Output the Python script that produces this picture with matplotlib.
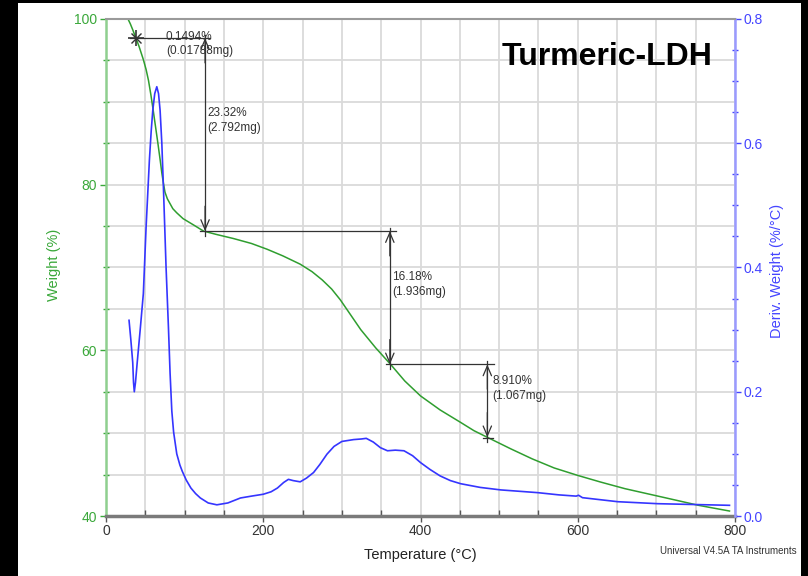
import matplotlib
matplotlib.use('Agg')
import matplotlib.pyplot as plt
from matplotlib.ticker import MultipleLocator, FormatStrFormatter
from matplotlib.patches import Rectangle

plt.rcParams['font.family'] = ['Liberation Sans', 'DejaVu Sans']

# weight curve (%)
temp_w = [28, 31, 34, 38, 42, 47.5, 51, 54, 57, 60, 63, 66, 69, 71, 73, 75, 78,
          81.5, 85, 90, 98, 105, 112, 124, 140, 162, 185, 205, 225, 247, 262,
          275, 287, 298, 311, 324, 343, 362, 380, 400, 425, 451, 468, 485, 515,
          542, 570, 600, 629, 660, 702, 730, 753, 793]
weight = [100, 99.4, 98.7, 97.7, 96.7, 95.1, 93.9, 92.6, 90.9, 89.0, 87.0, 85.0,
          82.9, 81.4, 80.2, 79.1, 78.3, 77.7, 77.1, 76.6, 75.9, 75.5, 75.1, 74.4,
          74.0, 73.5, 72.9, 72.2, 71.4, 70.4, 69.5, 68.5, 67.4, 66.1, 64.3, 62.5,
          60.3, 58.3, 56.3, 54.5, 52.8, 51.3, 50.3, 49.5, 48.1, 46.9, 45.8, 44.9,
          44.1, 43.3, 42.4, 41.8, 41.3, 40.6]

# derivative curve (%/C)
temp_d = [29.3, 31.5, 34, 35, 36, 37.5, 39.9, 43.5, 47.5, 51, 55.2, 57.5, 59.5,
          62, 64.6, 66.8, 68.8, 71, 73, 76.4, 79.4, 81.5, 83.7, 86, 90, 94, 97,
          102, 108, 114, 120, 130, 141, 155, 171, 185, 200, 210, 218, 226, 232,
          238, 247, 255, 264, 272, 281, 290, 300, 315, 325, 331, 340, 349, 358,
          368, 379, 390, 400, 412, 425, 438, 451, 476, 502, 549, 576, 598, 601,
          606, 651, 702, 793]
deriv = [0.315, 0.285, 0.247, 0.215, 0.200, 0.215, 0.250, 0.300, 0.358, 0.465,
         0.573, 0.620, 0.653, 0.680, 0.691, 0.680, 0.653, 0.600, 0.530, 0.400,
         0.304, 0.230, 0.169, 0.135, 0.100, 0.082, 0.072, 0.058, 0.045, 0.036,
         0.029, 0.021, 0.018, 0.021, 0.029, 0.032, 0.035, 0.039, 0.045, 0.054,
         0.059, 0.057, 0.055, 0.061, 0.070, 0.083, 0.0995, 0.112, 0.120, 0.123,
         0.124, 0.125, 0.119, 0.110, 0.105, 0.106, 0.105, 0.097, 0.086, 0.075,
         0.0645, 0.057, 0.052, 0.046, 0.042, 0.0376, 0.034, 0.032, 0.0334,
         0.0295, 0.023, 0.0198, 0.0172]

# step annotations: (temperature of arrow, top weight, bottom weight, label)
steps = [
    (126, 97.7, 74.4, '23.32%\n(2.792mg)'),
    (361, 74.4, 58.3, '16.18%\n(1.936mg)'),
    (485, 58.3, 49.5, '8.910%\n(1.067mg)'),
]
first_step = (38, 97.7, '0.1494%\n(0.01788mg)')

# layout of the annotation texts (left T, top W) and horizontal guides
first_text_at = (76, 98.6)
step_text_at = [(128.5, 89.4), (364, 69.6), (491.5, 57.0)]
h_spans = [(120, 369), (356, 493)]

green = '#2f9e2f'
green_lbl = '#3aa83a'
blue = '#3535ff'
blue_lbl = '#4545ff'
ann = '#333333'

fig = plt.figure(figsize=(8.08, 5.76), dpi=100)
fig.patch.set_facecolor('black')
fig.patches.append(Rectangle((18/808, 0), (801-18)/808, 573/576,
                             transform=fig.transFigure, facecolor='white',
                             edgecolor='none', zorder=-5))
fig.patches.append(Rectangle((801/808, 0), 7/808, 1, transform=fig.transFigure,
                             facecolor='black', edgecolor='none', zorder=20))

ax = fig.add_axes([106/808, 1 - 516/576, 629/808, 497/576])
ax.set_facecolor('none')
ax2 = ax.twinx()

ax.set_xlim(0, 800)
ax.set_ylim(40, 100)
ax2.set_ylim(0, 0.8)

ax.xaxis.set_major_locator(MultipleLocator(200))
ax.xaxis.set_minor_locator(MultipleLocator(50))
ax.yaxis.set_major_locator(MultipleLocator(20))
ax.yaxis.set_minor_locator(MultipleLocator(5))
ax2.yaxis.set_major_locator(MultipleLocator(0.2))
ax2.yaxis.set_minor_locator(MultipleLocator(0.05))
ax2.yaxis.set_major_formatter(FormatStrFormatter('%.1f'))

ax.grid(True, which='both', color='#dadada', lw=1.3)
ax.set_axisbelow(True)

ax.plot(temp_w, weight, color=green, lw=1.1, zorder=3)
ax2.plot(temp_d, deriv, color=blue, lw=1.2, zorder=3)

# spines
for s in ['top', 'right']:
    ax.spines[s].set_visible(False)
ax.spines['left'].set_color('#8fcf8f')
ax.spines['left'].set_linewidth(1.8)
ax.spines['bottom'].set_color('#7a7a7a')
ax.spines['bottom'].set_linewidth(2.5)
ax2.spines['top'].set_color('#9a9a9a')
ax2.spines['top'].set_linewidth(1.5)
ax2.spines['left'].set_visible(False)
ax2.spines['bottom'].set_visible(False)
ax2.spines['right'].set_color('#9a9aff')
ax2.spines['right'].set_linewidth(1.8)

ax.tick_params(axis='y', which='major', direction='out', length=4.5, width=1,
               color=green_lbl, labelcolor=green_lbl, labelsize=10, pad=2)
ax.tick_params(axis='y', which='minor', direction='inout', length=5, width=1,
               color=green_lbl)
ax.tick_params(axis='x', which='major', direction='out', length=4, width=1,
               color='#555555', labelcolor='#333333', labelsize=10, pad=2)
ax.tick_params(axis='x', which='minor', direction='in', length=4, width=1,
               color='#555555')
ax2.tick_params(axis='y', which='major', direction='out', length=4.5, width=1,
                color=blue_lbl, labelcolor=blue_lbl, labelsize=10, pad=1.5)
ax2.tick_params(axis='y', which='minor', direction='inout', length=5, width=1,
                color=blue_lbl)

ax.set_xlabel('Temperature (°C)', fontsize=10.5, color='#222222')
ax.xaxis.set_label_coords(0.5, -0.064)
ax.set_ylabel('Weight (%)', fontsize=10.5, color=green_lbl)
ax.yaxis.set_label_coords(-0.072, 0.505)
ax2.set_ylabel('Deriv. Weight (%/°C)', fontsize=10.5, color=blue_lbl)
ax2.yaxis.set_label_coords(1.056, 0.493)

arrow_style = dict(arrowstyle='->,head_length=0.7,head_width=0.3',
                   color=ann, lw=0.9, shrinkA=0, shrinkB=0)

# first (small) step
t0, w0, txt0 = first_step
ax.plot([30, 132], [w0, w0], color=ann, lw=0.9, zorder=4)
ax.plot([t0], [w0], marker='+', ms=11, mew=1.2, color=ann, zorder=5)
ax.plot([t0], [w0], marker='x', ms=7, mew=1.0, color=ann, zorder=5)
ax.text(first_text_at[0], first_text_at[1], txt0, fontsize=8.5, color=ann,
        va='top', ha='left', linespacing=1.3, zorder=5)

for i, (t, top, bot, txt) in enumerate(steps):
    ax.plot([t, t], [top + 0.4, bot - 0.6], color=ann, lw=0.9, zorder=4)
    ax.annotate('', xy=(t, top), xytext=(t, top - 3), arrowprops=arrow_style)
    ax.annotate('', xy=(t, bot), xytext=(t, bot + 3), arrowprops=arrow_style)
    if i < len(h_spans):
        ax.plot(list(h_spans[i]), [bot, bot], color=ann, lw=0.9, zorder=4)
    tx, ty = step_text_at[i]
    ax.text(tx, ty, txt, fontsize=8.5, color=ann, va='top', ha='left',
            linespacing=1.3, zorder=5)

ax.plot([479, 492], [49.4, 49.4], color=ann, lw=0.9, zorder=4)

fig.text(502/808, 1 - 65/576, 'Turmeric-LDH', fontsize=23, fontweight='bold',
         color='black', va='baseline', ha='left')
fig.text(660/808, 1 - 554/576, 'Universal V4.5A TA Instruments', fontsize=7,
         color='#333333', va='baseline', ha='left', zorder=5)

fig.savefig('out.png', dpi=100, facecolor=fig.get_facecolor())
